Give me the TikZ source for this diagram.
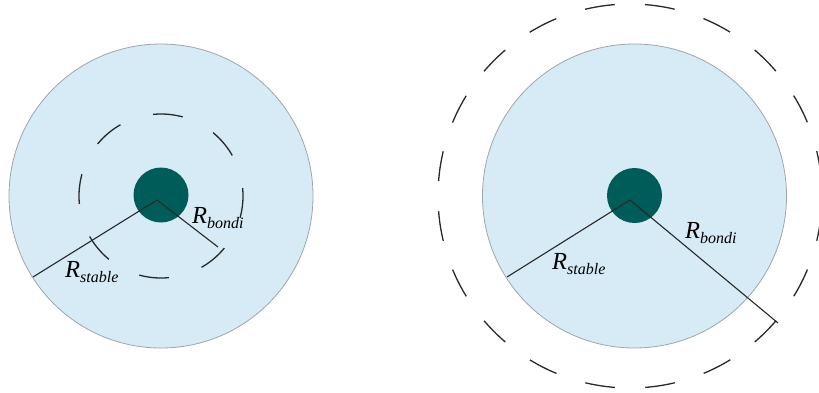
\documentclass[tikz,border=0pt]{standalone}
\usepackage{fontspec}
\setmainfont{Liberation Serif}
\definecolor{discblue}{RGB}{214,235,246}
\definecolor{discedge}{RGB}{160,165,170}
\definecolor{coreteal}{RGB}{0,92,88}
\definecolor{inkgray}{RGB}{40,40,40}
\newcommand\Rlab[1]{{\fontsize{24.5}{28}\selectfont\itshape R}\raisebox{-5.5pt}{\fontsize{16}{18}\selectfont\itshape #1}}
\begin{document}
\begin{tikzpicture}[x=1pt,y=-1pt,
  disc/.style={circle, draw=discedge, line width=0.8pt, fill=discblue, minimum size=304pt, inner sep=0pt},
  core/.style={circle, fill=coreteal, minimum size=55pt, inner sep=0pt},
  ring/.style={circle, draw=inkgray, line width=1.3pt, inner sep=0pt},
  radline/.style={draw=inkgray, line width=1.1pt},
  lab/.style={anchor=base west, inner sep=0pt}]
\useasboundingbox (0,0) rectangle (819,392);
% left panel
\node[disc] (Ldisc) at (161,196) {};
\node[ring, minimum size=164pt, dash pattern=on 30pt off 34.4pt, dash phase=22pt] (Lring) at (161,196) {};
\node[core] (Lcore) at (161,195) {};
\coordinate (Lv) at (157,200);
\coordinate (Ls) at (33,277);
\coordinate (Lb) at (218,247);
\draw[radline] (Ls) -- (Lv) -- (Lb);
\node[lab] (LsLab) at (65,277) {\Rlab{stable}};
\node[lab] (LbLab) at (192,223) {\Rlab{bondi}};
% right panel
\node[ring, minimum size=384pt, dash pattern=on 30pt off 30.32pt, dash phase=45pt] (Rring) at (630,196) {};
\node[disc] (Rdisc) at (634.5,196) {};
\node[core] (Rcore) at (634.5,195.5) {};
\coordinate (Rv) at (630,200);
\coordinate (Rs) at (507,277);
\coordinate (Rb) at (778,323);
\draw[radline] (Rs) -- (Rv) -- (Rb);
\node[lab] (RsLab) at (552,269) {\Rlab{stable}};
\node[lab] (RbLab) at (685,238) {\Rlab{bondi}};
\end{tikzpicture}
\end{document}
